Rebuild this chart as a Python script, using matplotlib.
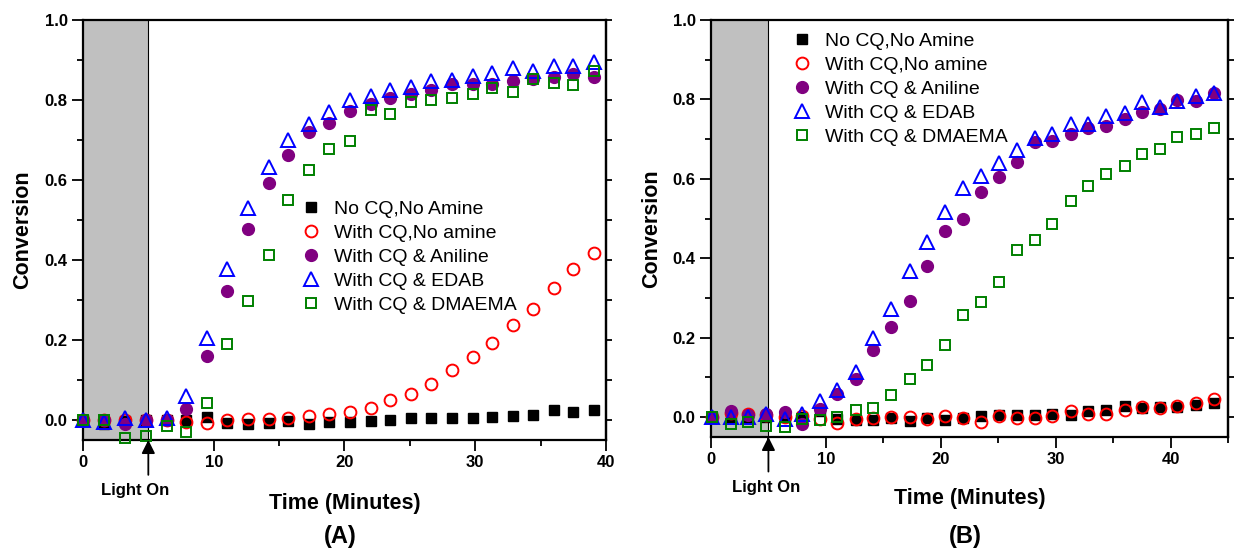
import matplotlib
matplotlib.use("Agg")
import matplotlib.pyplot as plt
from matplotlib.ticker import MultipleLocator, FormatStrFormatter

plt.rcParams['font.family'] = ['Liberation Sans', 'DejaVu Sans']

labels = ["No CQ,No Amine", "With CQ,No amine", "With CQ & Aniline",
          "With CQ & EDAB", "With CQ & DMAEMA"]

# ---------------- Panel A data ----------------
tA = [0.0, 1.6, 3.2, 4.8, 6.4, 7.9, 9.5, 11.0, 12.6, 14.2, 15.7, 17.3, 18.8,
      20.4, 22.0, 23.5, 25.1, 26.6, 28.2, 29.8, 31.3, 32.9, 34.4, 36.0, 37.5, 39.1]
A_none = [0.0, -0.009, -0.003, 0.0, 0.0, 0.0, 0.007, -0.007, -0.010, -0.007,
          -0.002, -0.009, -0.005, -0.005, -0.002, 0.0, 0.004, 0.004, 0.004,
          0.006, 0.008, 0.010, 0.013, 0.026, 0.019, 0.025]
A_cq = [0.0, 0.0, 0.0, 0.0, 0.0, -0.004, -0.007, 0.0, 0.002, 0.002, 0.005,
        0.009, 0.014, 0.021, 0.030, 0.049, 0.066, 0.089, 0.124, 0.157, 0.192,
        0.237, 0.278, 0.329, 0.377, 0.417]
A_aniline = [0.0, 0.0, -0.010, 0.0, 0.0, 0.027, 0.159, 0.322, 0.477, 0.592,
             0.663, 0.719, 0.742, 0.773, 0.790, 0.806, 0.815, 0.826, 0.841,
             0.841, 0.841, 0.848, 0.853, 0.857, 0.865, 0.857]
A_edab = [0.0, -0.005, 0.005, 0.0, 0.005, 0.060, 0.205, 0.378, 0.530, 0.632,
          0.700, 0.740, 0.770, 0.800, 0.810, 0.824, 0.832, 0.848, 0.851, 0.860,
          0.868, 0.879, 0.872, 0.885, 0.885, 0.894]
A_dmaema = [0.0, 0.0, -0.046, -0.040, -0.015, -0.030, 0.042, 0.191, 0.298,
            0.413, 0.549, 0.625, 0.678, 0.698, 0.775, 0.766, 0.794, 0.800,
            0.804, 0.816, 0.829, 0.819, 0.852, 0.843, 0.837, 0.872]

# ---------------- Panel B data ----------------
tB = [0.1, 1.7, 3.2, 4.8, 6.4, 7.9, 9.5, 11.0, 12.6, 14.1, 15.7, 17.3, 18.8,
      20.4, 21.9, 23.5, 25.1, 26.6, 28.2, 29.7, 31.3, 32.8, 34.4, 36.0, 37.5,
      39.1, 40.6, 42.2, 43.8]
B_none = [0.0, 0.0, 0.0, 0.0, 0.0, 0.0, 0.015, -0.005, -0.008, -0.006, -0.002,
          -0.009, -0.003, -0.006, -0.003, 0.002, 0.006, 0.005, 0.006, 0.008,
          0.006, 0.016, 0.018, 0.029, 0.022, 0.026, 0.025, 0.031, 0.035]
B_cq = [0.0, 0.010, 0.009, 0.006, 0.0, 0.004, -0.004, -0.015, -0.005, -0.002,
        0.0, 0.0, -0.004, 0.004, -0.003, -0.012, 0.002, -0.001, -0.001, 0.003,
        0.016, 0.007, 0.009, 0.019, 0.026, 0.022, 0.028, 0.035, 0.046]
B_aniline = [0.0, 0.016, 0.006, 0.009, 0.013, -0.018, 0.020, 0.057, 0.095,
             0.169, 0.226, 0.292, 0.381, 0.468, 0.500, 0.568, 0.605, 0.643,
             0.692, 0.695, 0.714, 0.728, 0.734, 0.752, 0.768, 0.777, 0.799,
             0.795, 0.817]
B_edab = [0.0, 0.0, 0.0, 0.008, -0.005, 0.009, 0.040, 0.068, 0.113, 0.200,
          0.273, 0.369, 0.442, 0.517, 0.577, 0.608, 0.640, 0.673, 0.702, 0.714,
          0.738, 0.739, 0.759, 0.767, 0.794, 0.782, 0.796, 0.808, 0.816]
B_dmaema = [0.0, -0.018, -0.013, -0.022, -0.025, -0.004, -0.007, 0.0, 0.018,
            0.022, 0.055, 0.097, 0.132, 0.182, 0.256, 0.291, 0.340, 0.421,
            0.447, 0.486, 0.544, 0.581, 0.613, 0.633, 0.663, 0.675, 0.706,
            0.712, 0.729]

styles = [
    dict(marker='s', ms=7.5, mfc='black', mec='black', mew=1.0),
    dict(marker='o', ms=8.5, mfc='none', mec='#ff0000', mew=1.4),
    dict(marker='o', ms=8.5, mfc='#800080', mec='#800080', mew=1.0),
    dict(marker='^', ms=10, mfc='none', mec='#0000ff', mew=1.4),
    dict(marker='s', ms=7.5, mfc='none', mec='#008000', mew=1.4),
]

fig = plt.figure(figsize=(12.38, 5.5), dpi=100)
axA = fig.add_axes([0.067, 0.2, 0.4225, 0.7636])
axB = fig.add_axes([0.5743, 0.2055, 0.4176, 0.758])


def draw(ax, t, series, xmax, leg_anchor, light_x, label_y):
    ax.axvspan(0, 5, color='#c0c0c0', zorder=0, lw=0)
    ax.axvline(5, color='black', lw=0.8, zorder=1)
    for s, st, lab in zip(series, styles, labels):
        ax.plot(t, s, ls='none', label=lab, clip_on=False, zorder=3, **st)
    ax.set_xlim(0, xmax)
    ax.set_ylim(-0.05, 1.0)
    ax.xaxis.set_major_locator(MultipleLocator(10))
    ax.xaxis.set_minor_locator(MultipleLocator(5))
    ax.yaxis.set_major_locator(MultipleLocator(0.2))
    ax.yaxis.set_minor_locator(MultipleLocator(0.1))
    ax.yaxis.set_major_formatter(FormatStrFormatter('%.1f'))
    for sp in ax.spines.values():
        sp.set_linewidth(1.6)
    ax.tick_params(axis='both', which='major', direction='out', length=8,
                   width=1.3, labelsize=12, pad=3)
    ax.tick_params(axis='both', which='minor', direction='out', length=4.5,
                   width=1.3)
    ax.tick_params(top=False, which='both')
    for lbl in ax.get_xticklabels() + ax.get_yticklabels():
        lbl.set_fontweight('bold')
    sec = ax.secondary_yaxis('right')
    sec.yaxis.set_major_locator(MultipleLocator(0.1))
    sec.tick_params(axis='y', which='major', direction='out', length=4.5,
                    width=1.3, labelright=False)
    sec.spines['right'].set_linewidth(1.6)
    ax.set_ylabel('Conversion', fontsize=15.5, fontweight='bold')
    ax.yaxis.set_label_coords(-0.095, 0.5)
    ax.set_xlabel('Time (Minutes)', fontsize=15.5, fontweight='bold')
    ax.xaxis.set_label_coords(0.5, label_y)
    ax.annotate('', xy=(5, 0), xycoords=('data', 'axes fraction'),
                xytext=(5, -0.083), textcoords=('data', 'axes fraction'),
                arrowprops=dict(arrowstyle='-|>', color='black', lw=1.3,
                                mutation_scale=20, shrinkA=0, shrinkB=0),
                annotation_clip=False)
    ax.text(light_x, -0.121, 'Light On', transform=ax.get_xaxis_transform(),
            ha='center', va='center', fontsize=12, fontweight='bold')
    ax.legend(loc='upper left', bbox_to_anchor=leg_anchor, frameon=False,
              fontsize=14, numpoints=1, handlelength=1.0, handletextpad=0.68,
              labelspacing=0.33, borderpad=0, borderaxespad=0)


draw(axA, tA, [A_none, A_cq, A_aniline, A_edab, A_dmaema], 40,
     (0.417, 0.571), 4.0, -0.127)
draw(axB, tB, [B_none, B_cq, B_aniline, B_edab, B_dmaema], 45,
     (0.157, 0.971), 4.8, -0.123)

fig.text(0.2746, 0.024, '(A)', ha='center', va='center', fontsize=17,
         fontweight='bold')
fig.text(0.780, 0.024, '(B)', ha='center', va='center', fontsize=17,
         fontweight='bold')

fig.savefig('out.png', dpi=100)
